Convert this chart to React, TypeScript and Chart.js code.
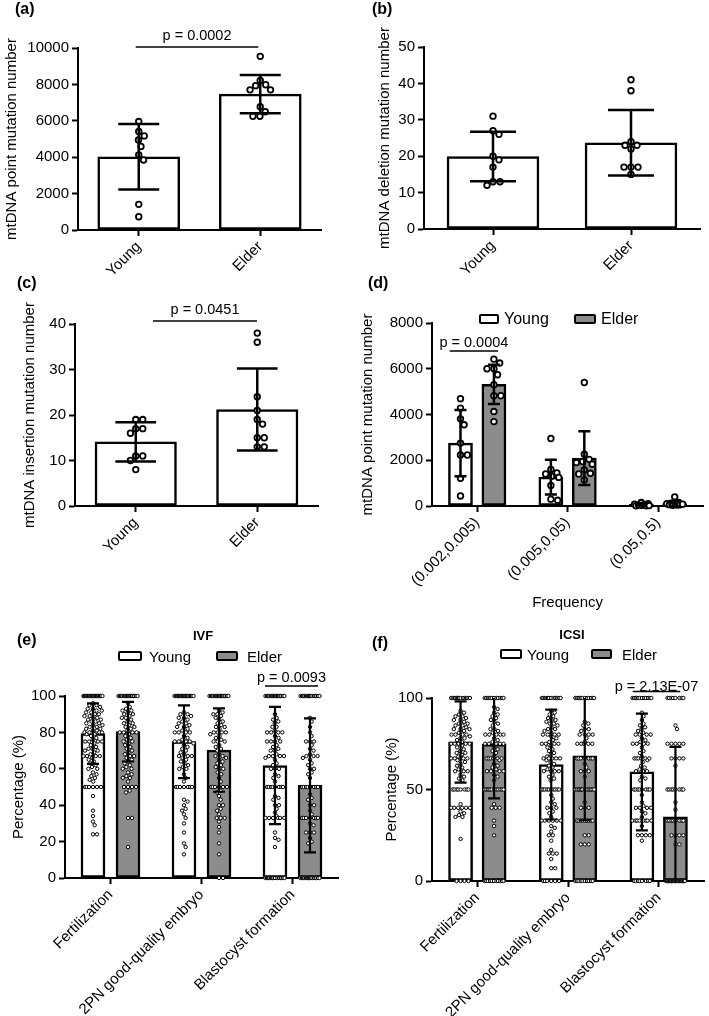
import React, { useEffect, useRef } from 'react';
import { Chart, registerables } from 'chart.js';

Chart.register(...registerables);

const FONT = 'Arial, "Liberation Sans", Helvetica, sans-serif';
const GRAY = '#8c8c8c';
const WHITE = '#ffffff';

// ---------------- (a) point mutations ----------------
const abcCategories = ['Young', 'Elder'];
const aMeans = [4020, 7470];
const aSD = [1800, 1050];
const aYoungPts = [5960, 5410, 5170, 4950, 4590, 4130, 3850, 1410, 730];
const aElderPts = [9540, 8220, 7980, 7930, 7700, 7700, 6770, 6500, 6250, 6250];

// ---------------- (b) deletions ----------------
const bMeans = [19.9, 23.7];
const bSD = [6.8, 9.0];
const bYoungPts = [31, 27, 26, 20, 19, 17, 13, 13, 12];
const bElderPts = [41, 38, 24, 23, 23, 22, 17, 17, 17, 15];

// ---------------- (c) insertions ----------------
const cMeans = [14.1, 21.2];
const cSD = [4.3, 9.0];
const cYoungPts = [19, 19, 17, 17, 16, 11, 11, 10, 8];
const cElderPts = [38, 36, 24, 21, 19, 18, 15, 15, 13, 13];

// ---------------- (d) by frequency ----------------
const dCategories = ['(0.002,0.005)', '(0.005,0.05)', '(0.05,0.5)'];
const dYoungMeans = [2750, 1260, 70];
const dElderMeans = [5320, 2090, 110];
const dYoungSD = [1450, 760, 50];
const dElderSD = [860, 1175, 110];
const dYoungPts = [
  [4690, 4280, 3810, 3550, 2750, 2230, 2230, 1210, 440],
  [2950, 1600, 1450, 1400, 1300, 1250, 900, 300, 250],
  [150, 100, 80, 50, 40, 30, 20, 10, 10],
];
const dElderPts = [
  [6420, 6250, 6000, 6000, 5740, 5300, 4820, 4820, 4130, 3690],
  [5400, 2260, 2040, 1940, 1900, 1830, 1580, 1430, 1400, 1140],
  [400, 150, 120, 100, 80, 70, 60, 50, 40, 30],
];

// ---------------- (e) IVF ----------------
const efCategories = ['Fertilization', '2PN good-quality embryo', 'Blastocyst formation'];
const eYoungMeans = [79.3, 74.9, 61.8];
const eElderMeans = [80.4, 70.3, 50.9];
const eYoungSD = [16.6, 20.0, 32.2];
const eElderSD = [16.4, 22.9, 36.8];
const eYoungFert = [100, 100, 100, 100, 100, 100, 100, 100, 100, 100, 100, 100, 100, 100,
  100, 100, 100, 100, 100, 100, 100, 100, 100, 100,
  96, 95, 95, 94, 93, 93, 92, 92, 91, 91, 90, 90, 89, 89, 88, 88, 87, 87, 86, 86, 85, 85, 84, 84,
  83, 83, 82, 82, 81, 81, 80, 80, 80, 80, 79, 79, 78, 77, 76, 75, 75, 75, 75, 74, 73, 72, 71, 71,
  70, 70, 69, 68, 67, 67, 67, 67, 66, 65, 64, 63, 62, 61, 60, 60, 58, 57, 56, 55, 54, 53,
  50, 50, 50, 50, 50, 50, 45, 37, 34, 31, 29, 24, 24];
const eElderFert = [100, 100, 100, 100, 100, 100, 100, 100, 100, 100, 100, 100,
  100, 100, 100, 100, 100, 100, 100, 100,
  96, 94, 93, 92, 92, 91, 90, 90, 89, 88, 88, 87, 86, 85, 85, 84, 83, 83, 82, 81, 80, 80, 80, 80,
  79, 78, 77, 76, 75, 75, 74, 73, 72, 71, 70, 69, 68, 67, 67, 66, 65, 64, 63, 62, 61, 60, 60, 58,
  57, 56, 55, 55, 53, 50, 50, 50, 50, 48, 47, 33, 33, 17];
const eYoung2PN = [100, 100, 100, 100, 100, 100, 100, 100, 100, 100, 100, 100, 100, 100,
  100, 100, 100, 100, 100, 100, 100, 100,
  91, 90, 90, 89, 88, 88, 87, 86, 85, 85, 84, 83, 83, 82, 81, 80, 80, 80, 80, 78, 77, 76, 75, 75,
  75, 75, 74, 73, 72, 71, 70, 69, 68, 67, 67, 67, 66, 65, 64, 63, 62, 61, 60, 60, 57, 55, 53,
  50, 50, 50, 50, 50, 50, 50, 43, 42, 40, 38, 37, 35, 33, 30, 25, 19, 17, 13];
const eElder2PN = [100, 100, 100, 100, 100, 100, 100, 100, 100, 100, 100, 100,
  100, 100, 100, 100, 100, 100, 100, 100,
  92, 91, 90, 90, 89, 88, 87, 86, 85, 84, 83, 83, 82, 80, 80, 80, 80, 79, 78, 77, 76, 75, 75, 75,
  73, 72, 71, 70, 68, 67, 67, 66, 65, 64, 63, 62, 61, 60, 60, 58, 57, 55, 53, 50, 50, 50, 50, 50,
  50, 48, 47, 45, 43, 40, 40, 38, 37, 35, 33, 33, 33, 31, 28, 25, 19, 13, 0, 0];
const eYoungBlast = [100, 100, 100, 100, 100, 100, 100, 100, 100, 100, 100, 100,
  100, 100, 100, 100, 100, 100, 100, 100,
  90, 88, 87, 86, 85, 83, 83, 81, 80, 80, 80, 80, 78, 77, 75, 75, 75, 75, 73, 72, 71, 70, 70, 68,
  67, 67, 67, 67, 66, 65, 63, 62, 60, 60, 60, 57, 56, 55, 53, 50, 50, 50, 50, 50, 50, 50, 50,
  45, 44, 43, 40, 40, 38, 36, 34, 33, 33, 33, 33, 33, 33, 25, 22, 21, 17,
  0, 0, 0, 0, 0, 0, 0, 0, 0, 0, 0, 0, 0, 0, 0, 0];
const eElderBlast = [100, 100, 100, 100, 100, 100, 100, 100, 100, 100,
  100, 100, 100, 100, 100, 100, 100, 100,
  88, 86, 83, 80, 78, 75, 75, 75, 73, 71, 70, 68, 67, 67, 67, 66, 65, 63, 62, 60, 60, 58, 57, 55,
  50, 50, 50, 50, 50, 50, 50, 50, 46, 44, 43, 40, 40, 37, 35, 33, 33, 33, 33, 33, 33, 33, 30, 29,
  25, 25, 25, 22, 20, 19, 0, 0, 0, 0, 0, 0, 0, 0, 0, 0, 0, 0, 0, 0, 0, 0, 0, 0];

// ---------------- (f) ICSI ----------------
const fYoungMeans = [76.0, 63.6, 59.6];
const fElderMeans = [74.7, 68.4, 35.1];
const fYoungSD = [22.2, 30.0, 31.9];
const fElderSD = [29.6, 35.1, 38.2];
const fYoungFert = [100, 100, 100, 100, 100, 100, 100, 100, 100, 100, 100, 100, 100, 100, 100,
  93, 92, 91, 90, 90, 89, 88, 88, 87, 86, 86, 85, 85, 84, 83, 83, 83, 82, 81, 80, 80, 80, 80, 79,
  78, 78, 77, 76, 75, 75, 75, 75, 75, 74, 73, 72, 71, 70, 70, 69, 68, 67, 67, 67, 67, 67, 66, 65,
  64, 63, 62, 61, 60, 60, 60, 58, 57, 56, 55, 50, 50, 50, 50, 50, 50, 50, 50, 42, 40, 40, 40, 40,
  40, 40, 38, 37, 36, 35, 35, 23, 0, 0, 0, 0];
const fElderFert = [100, 100, 100, 100, 100, 100, 100, 100, 100, 100, 100, 100,
  95, 94, 92, 91, 90, 89, 88, 87, 86, 85, 83, 83, 82, 81, 80, 80, 80, 80, 80, 78, 77, 76, 75, 75,
  75, 75, 75, 73, 72, 71, 70, 68, 67, 67, 67, 67, 67, 67, 66, 64, 63, 62, 61, 60, 60, 60, 60, 58,
  57, 55, 50, 50, 50, 50, 50, 50, 50, 50, 50, 50, 50, 50, 42, 40, 40, 40, 33, 30, 25,
  0, 0, 0, 0, 0, 0, 0, 0, 0, 0, 0];
const fYoung2PN = [100, 100, 100, 100, 100, 100, 100, 100, 100, 100, 100, 100, 100, 100,
  93, 92, 91, 90, 89, 88, 88, 87, 86, 86, 85, 84, 83, 83, 82, 81, 80, 80, 80, 80, 79, 78, 77, 76,
  75, 75, 75, 75, 74, 73, 72, 71, 70, 69, 68, 67, 67, 67, 67, 67, 66, 65, 64, 63, 62, 61, 60, 60,
  60, 60, 58, 57, 56, 55, 50, 50, 50, 50, 50, 50, 50, 50, 50, 50, 47, 45, 43, 42, 40, 40, 40, 38,
  37, 35, 33, 33, 33, 33, 33, 33, 30, 29, 27, 25, 25, 22, 17, 15, 15, 15, 12, 7, 7,
  0, 0, 0, 0, 0, 0];
const fElder2PN = [100, 100, 100, 100, 100, 100, 100, 100, 100, 100, 100, 100,
  87, 86, 85, 83, 83, 82, 80, 80, 80, 80, 78, 76, 75, 75, 75, 75, 75, 67, 67, 67, 67, 67, 67, 67,
  64, 62, 60, 60, 60, 57, 50, 50, 50, 50, 50, 50, 50, 50, 50, 50, 50, 50, 50, 50, 43, 40, 40, 40,
  33, 33, 33, 33, 33, 33, 33, 33, 33, 25, 25, 20, 20, 20, 0, 0, 0, 0, 0, 0, 0, 0, 0, 0];
const fYoungBlast = [100, 100, 100, 100, 100, 100, 100, 100, 100, 100, 100, 100,
  92, 90, 88, 86, 85, 84, 83, 82, 81, 80, 80, 80, 80, 78, 77, 76, 75, 75, 75, 75, 73, 71, 70, 68,
  67, 67, 67, 67, 67, 67, 66, 65, 63, 62, 61, 60, 60, 60, 57, 56, 55, 50, 50, 50, 50, 50, 50, 50,
  50, 47, 43, 41, 40, 40, 40, 40, 38, 37, 35, 33, 33, 33, 33, 33, 33, 33, 33, 30, 25, 25, 25, 25,
  22, 0, 0, 0, 0, 0, 0, 0, 0];
const fElderBlast = [100, 100, 100, 100, 100, 100, 100, 100,
  85, 83, 75, 75, 75, 75, 75, 67, 67, 67, 67, 63, 50, 50, 50, 50, 50, 50, 50, 50, 43, 39,
  33, 33, 33, 33, 33, 33, 33, 33, 25, 25, 25, 25, 20, 20,
  0, 0, 0, 0, 0, 0, 0, 0, 0, 0, 0, 0, 0, 0, 0, 0, 0, 0, 0, 0, 0, 0, 0, 0, 0, 0, 0, 0];

// ---------------- types ----------------
type Group = { label: string; means: number[]; sd: number[]; points: number[][]; color: string };
type PVal = { x1: number; x2: number; y: number; gap: number; text: string };
type PanelCfg = {
  left: number; top: number; width: number; height: number;
  area: { l: number; t: number; r: number; b: number };
  titleX: number;
  categories: string[];
  groups: Group[];
  yMax: number; yStep: number; yTitle: string; xTitle?: string;
  cp: number; bp: number;
  pointR: number; pointBW: number; swarmD: number; swarmMax: number;
  barBW: number; ebW: number;
  pvals: PVal[];
};

// beeswarm offsets (pixels) so that points do not overlap
function swarm(vals: number[], kY: number, d: number, maxPx: number): number[] {
  const idx = vals.map((_, i) => i).sort((a, b) => vals[b] - vals[a]);
  const placed: { x: number; y: number }[] = [];
  const out = new Array(vals.length).fill(0);
  for (const i of idx) {
    const y = vals[i] * kY;
    const near = placed.filter((p) => Math.abs(p.y - y) < d);
    const cands = [0];
    near.forEach((p) => {
      const dx = Math.sqrt(Math.max(d * d - (p.y - y) ** 2, 0));
      cands.push(p.x + dx, p.x - dx);
    });
    cands.sort((a, b) => Math.abs(a) - Math.abs(b));
    let best: number | null = null;
    for (const c of cands) {
      if (Math.abs(c) > maxPx + 1e-6) continue;
      if (near.every((p) => (p.x - c) ** 2 + (p.y - y) ** 2 >= d * d - 1e-3)) { best = c; break; }
    }
    if (best === null) {
      let bestScore = -1;
      const steps = 24;
      for (let s = 0; s <= steps; s++) {
        const c = -maxPx + (2 * maxPx * s) / steps;
        const score = Math.min(...near.map((p) => (p.x - c) ** 2 + (p.y - y) ** 2));
        if (score > bestScore) { bestScore = score; best = c; }
      }
    }
    placed.push({ x: best as number, y });
    out[i] = best as number;
  }
  return out;
}

const overlayPlugin = {
  id: 'overlay',
  afterDatasetsDraw(chart: any, _args: any, opts: any) {
    const { ctx, chartArea } = chart;
    const y = chart.scales.y;
    ctx.save();
    ctx.strokeStyle = '#000';
    ctx.lineWidth = opts.ebW;
    (opts.errorBars as { datasetIndex: number; sd: number[] }[]).forEach((eb) => {
      const meta = chart.getDatasetMeta(eb.datasetIndex);
      const pts = chart.data.datasets[eb.datasetIndex].data as { x: number; y: number }[];
      meta.data.forEach((bar: any, i: number) => {
        const x = bar.x;
        const hw = bar.width * 0.25;
        const top = y.getPixelForValue(pts[i].y + eb.sd[i]);
        const bot = y.getPixelForValue(pts[i].y - eb.sd[i]);
        const t = Math.max(top, chartArea.top);
        const b = Math.min(bot, chartArea.bottom);
        ctx.beginPath();
        ctx.moveTo(x, t);
        ctx.lineTo(x, b);
        if (top >= chartArea.top - 0.5) { ctx.moveTo(x - hw, top); ctx.lineTo(x + hw, top); }
        if (bot <= chartArea.bottom + 0.5) { ctx.moveTo(x - hw, bot); ctx.lineTo(x + hw, bot); }
        ctx.stroke();
      });
    });
    const xs = chart.scales.x;
    (opts.pvals as PVal[]).forEach((p) => {
      const x1 = xs.getPixelForValue(p.x1);
      const x2 = xs.getPixelForValue(p.x2);
      const py = y.getPixelForValue(p.y);
      ctx.lineWidth = 1.5;
      ctx.beginPath();
      ctx.moveTo(x1, py);
      ctx.lineTo(x2, py);
      ctx.stroke();
      ctx.fillStyle = '#000';
      ctx.font = `14.5px ${FONT}`;
      ctx.textAlign = 'center';
      ctx.textBaseline = 'alphabetic';
      ctx.fillText(p.text, (x1 + x2) / 2, py - p.gap);
    });
    ctx.restore();
  },
};

function Panel({ cfg }: { cfg: PanelCfg }) {
  const ref = useRef<HTMLCanvasElement>(null);
  useEffect(() => {
    const c = cfg;
    const n = c.categories.length;
    const G = c.groups.length;
    const aL = c.area.l - c.left, aT = c.area.t - c.top, aR = c.area.r - c.left, aB = c.area.b - c.top;
    const kY = (aB - aT) / c.yMax;
    const kX = (aR - aL) / n;
    const padL = c.titleX - c.left - 9;
    const yW = aL - padL;
    const xH = c.height - aB;
    const padR = c.width - aR;
    const barPx = (kX * c.cp * c.bp) / G;

    const datasets: any[] = [];
    c.groups.forEach((g, gi) => {
      const shift = G === 1 ? 0 : (gi - (G - 1) / 2) * (c.cp / G);
      datasets.push({
        type: 'bar', label: g.label,
        data: g.means.map((m, ci) => ({ x: ci + shift, y: m })),
        backgroundColor: g.color, borderColor: '#000', borderWidth: c.barBW, borderSkipped: false,
        barThickness: barPx, grouped: false, order: 2,
      });
    });
    c.groups.forEach((g, gi) => {
      const shift = G === 1 ? 0 : (gi - (G - 1) / 2) * (c.cp / G);
      g.points.forEach((vals, ci) => {
        const offs = swarm(vals, kY, c.swarmD, c.swarmMax);
        const pts = vals.map((v, k) => ({ x: ci + shift + offs[k] / kX, y: v }));
        pts.sort((p, q) => p.x - q.x);
        datasets.push({
          type: 'scatter', label: g.label + ci,
          data: pts,
          order: 1, clip: false,
          pointRadius: c.pointR, pointBorderWidth: c.pointBW,
          pointBackgroundColor: '#fff', pointBorderColor: '#000', showLine: false,
        });
      });
    });

    const tickFont = { family: FONT, size: 15 };
    const chart = new Chart(ref.current as HTMLCanvasElement, {
      type: 'scatter',
      data: { datasets },
      plugins: [overlayPlugin as any],
      options: {
        responsive: false,
        animation: false,
        devicePixelRatio: 1,
        events: [],
        layout: { padding: { left: padL, top: aT, right: padR, bottom: 0 } },
        plugins: {
          legend: { display: false },
          tooltip: { enabled: false },
          overlay: {
            ebW: c.ebW,
            errorBars: c.groups.map((g, gi) => ({ datasetIndex: gi, sd: g.sd })),
            pvals: c.pvals,
          },
        } as any,
        scales: {
          x: {
            type: 'linear', min: -0.5, max: n - 0.5, offset: false,
            border: { display: true, color: '#000', width: 2 },
            grid: { display: true, drawOnChartArea: false, drawTicks: true, offset: false, tickLength: 6, tickWidth: 2, tickColor: '#000' },
            afterBuildTicks: (s: any) => { s.ticks = c.categories.map((_, i) => ({ value: i })); },
            ticks: {
              font: tickFont, color: '#000', minRotation: 45, maxRotation: 45, autoSkip: false, padding: 2,
              callback: (_v: any, i: number) => c.categories[i],
            },
            title: c.xTitle
              ? { display: true, text: c.xTitle, font: { family: FONT, size: 15 }, color: '#000', padding: 0 }
              : { display: false },
            afterFit: (s: any) => { s.height = xH; },
          },
          y: {
            type: 'linear', min: 0, max: c.yMax,
            border: { display: true, color: '#000', width: 2 },
            grid: { display: true, drawOnChartArea: false, drawTicks: true, tickLength: 6, tickWidth: 2, tickColor: '#000' },
            ticks: { stepSize: c.yStep, font: tickFont, color: '#000', padding: 3, callback: (v: any) => String(v) },
            title: { display: true, text: c.yTitle, font: { family: FONT, size: 15 }, color: '#000', padding: 0 },
            afterFit: (s: any) => { s.width = yW; },
          },
        } as any,
      },
    } as any);
    return () => chart.destroy();
  }, [cfg]);
  return (
    <canvas
      ref={ref}
      width={cfg.width}
      height={cfg.height}
      style={{ position: 'absolute', left: cfg.left, top: cfg.top, width: cfg.width, height: cfg.height }}
    />
  );
}

const smallCommon = { pointR: 2.8, pointBW: 1.8, swarmD: 7, barBW: 2.5, ebW: 2.5 };
const bigCommon = { pointR: 1.7, pointBW: 1, swarmD: 4, swarmMax: 9.5, barBW: 2.5, ebW: 2.2 };

const panels: PanelCfg[] = [
  {
    left: 0, top: 0, width: 352, height: 285, area: { l: 78, t: 48, r: 321, b: 230 }, titleX: 12,
    categories: abcCategories,
    groups: [{ label: '', means: aMeans, sd: aSD, points: [aYoungPts, aElderPts], color: WHITE }],
    yMax: 10000, yStep: 2000, yTitle: 'mtDNA point mutation number',
    cp: 0.9, bp: 0.75, ...smallCommon, swarmMax: 11,
    pvals: [{ x1: -0.025, x2: 0.984, y: 10055, gap: 7, text: 'p = 0.0002' }],
  },
  {
    left: 355, top: 0, width: 354, height: 285, area: { l: 424, t: 47, r: 700, b: 229 }, titleX: 385,
    categories: abcCategories,
    groups: [{ label: '', means: bMeans, sd: bSD, points: [bYoungPts, bElderPts], color: WHITE }],
    yMax: 50, yStep: 10, yTitle: 'mtDNA deletion mutation number',
    cp: 0.9, bp: 0.74, ...smallCommon, swarmMax: 11,
    pvals: [],
  },
  {
    left: 0, top: 270, width: 352, height: 290, area: { l: 75, t: 324, r: 318, b: 506 }, titleX: 30,
    categories: abcCategories,
    groups: [{ label: '', means: cMeans, sd: cSD, points: [cYoungPts, cElderPts], color: WHITE }],
    yMax: 40, yStep: 10, yTitle: 'mtDNA insertion mutation number',
    cp: 0.9, bp: 0.745, ...smallCommon, swarmMax: 11,
    pvals: [{ x1: 0.142, x2: 0.998, y: 40.66, gap: 7, text: 'p = 0.0451' }],
  },
  {
    left: 355, top: 270, width: 354, height: 342, area: { l: 432, t: 323, r: 707, b: 506 }, titleX: 368,
    categories: dCategories,
    groups: [
      { label: 'Young', means: dYoungMeans, sd: dYoungSD, points: dYoungPts, color: WHITE },
      { label: 'Elder', means: dElderMeans, sd: dElderSD, points: dElderPts, color: GRAY },
    ],
    yMax: 8000, yStep: 2000, yTitle: 'mtDNA point mutation number', xTitle: 'Frequency',
    cp: 0.74, bp: 0.71, ...smallCommon, swarmMax: 8,
    pvals: [{ x1: -0.304, x2: 0.231, y: 6775, gap: 4, text: 'p = 0.0004' }],
  },
  {
    left: 0, top: 620, width: 355, height: 396, area: { l: 65, t: 696, r: 338, b: 878 }, titleX: 19,
    categories: efCategories,
    groups: [
      { label: 'Young', means: eYoungMeans, sd: eYoungSD, points: [eYoungFert, eYoung2PN, eYoungBlast], color: WHITE },
      { label: 'Elder', means: eElderMeans, sd: eElderSD, points: [eElderFert, eElder2PN, eElderBlast], color: GRAY },
    ],
    yMax: 100, yStep: 20, yTitle: 'Percentage (%)',
    cp: 0.77, bp: 0.685, ...bigCommon,
    pvals: [{ x1: 1.698, x2: 2.28, y: 105.5, gap: 4, text: 'p = 0.0093' }],
  },
  {
    left: 355, top: 620, width: 354, height: 396, area: { l: 432, t: 698, r: 707, b: 881 }, titleX: 392,
    categories: efCategories,
    groups: [
      { label: 'Young', means: fYoungMeans, sd: fYoungSD, points: [fYoungFert, fYoung2PN, fYoungBlast], color: WHITE },
      { label: 'Elder', means: fElderMeans, sd: fElderSD, points: [fElderFert, fElder2PN, fElderBlast], color: GRAY },
    ],
    yMax: 100, yStep: 50, yTitle: 'Percentage (%)',
    cp: 0.74, bp: 0.71, ...bigCommon,
    pvals: [{ x1: 1.714, x2: 2.238, y: 103.6, gap: 0, text: 'p = 2.13E-07' }],
  },
];

function Txt({ left, top, text, bold, size }: { left: number; top: number; text: string; bold?: boolean; size: number }) {
  return (
    <div style={{ position: 'absolute', left, top, font: `${bold ? 'bold ' : ''}${size}px ${FONT}`, lineHeight: `${size + 2}px`, whiteSpace: 'nowrap', color: '#000' }}>
      {text}
    </div>
  );
}

function LegendBox({ left, cy, w, color }: { left: number; cy: number; w: number; color: string }) {
  return (
    <div style={{ position: 'absolute', left, top: cy - 5, width: w, height: 10, boxSizing: 'border-box', border: '2.5px solid #000', borderRadius: 2, background: color }} />
  );
}

function Legend({ items, cy, size }: { items: { box: number; w: number; text: number; label: string; color: string }[]; cy: number; size: number }) {
  return (
    <>
      {items.map((it) => (
        <React.Fragment key={it.label}>
          <LegendBox left={it.box} cy={cy} w={it.w} color={it.color} />
          <Txt left={it.text} top={cy - (size + 2) / 2} text={it.label} size={size} />
        </React.Fragment>
      ))}
    </>
  );
}

export default function App() {
  return (
    <div style={{ position: 'fixed', left: 0, top: 0, width: 709, height: 1016, background: '#fff', overflow: 'hidden' }}>
      {panels.map((p, i) => <Panel key={i} cfg={p} />)}
      <Txt left={15} top={0} text="(a)" bold size={16} />
      <Txt left={372} top={0} text="(b)" bold size={16} />
      <Txt left={17} top={274} text="(c)" bold size={16} />
      <Txt left={368} top={274} text="(d)" bold size={16} />
      <Txt left={17} top={631} text="(e)" bold size={16} />
      <Txt left={372} top={634} text="(f)" bold size={16} />
      <div style={{ position: 'absolute', left: 163, width: 80, top: 628, textAlign: 'center', font: `bold 13px ${FONT}`, lineHeight: '15px' }}>IVF</div>
      <div style={{ position: 'absolute', left: 532, width: 80, top: 627, textAlign: 'center', font: `bold 13px ${FONT}`, lineHeight: '15px' }}>ICSI</div>
      <Legend cy={319} size={16} items={[
        { box: 479, w: 20, text: 504, label: 'Young', color: WHITE },
        { box: 574, w: 22, text: 601, label: 'Elder', color: GRAY },
      ]} />
      <Legend cy={656} size={15} items={[
        { box: 118, w: 24, text: 149, label: 'Young', color: WHITE },
        { box: 216, w: 22, text: 247, label: 'Elder', color: GRAY },
      ]} />
      <Legend cy={654} size={15} items={[
        { box: 500, w: 22, text: 527, label: 'Young', color: WHITE },
        { box: 591, w: 21, text: 622, label: 'Elder', color: GRAY },
      ]} />
    </div>
  );
}
